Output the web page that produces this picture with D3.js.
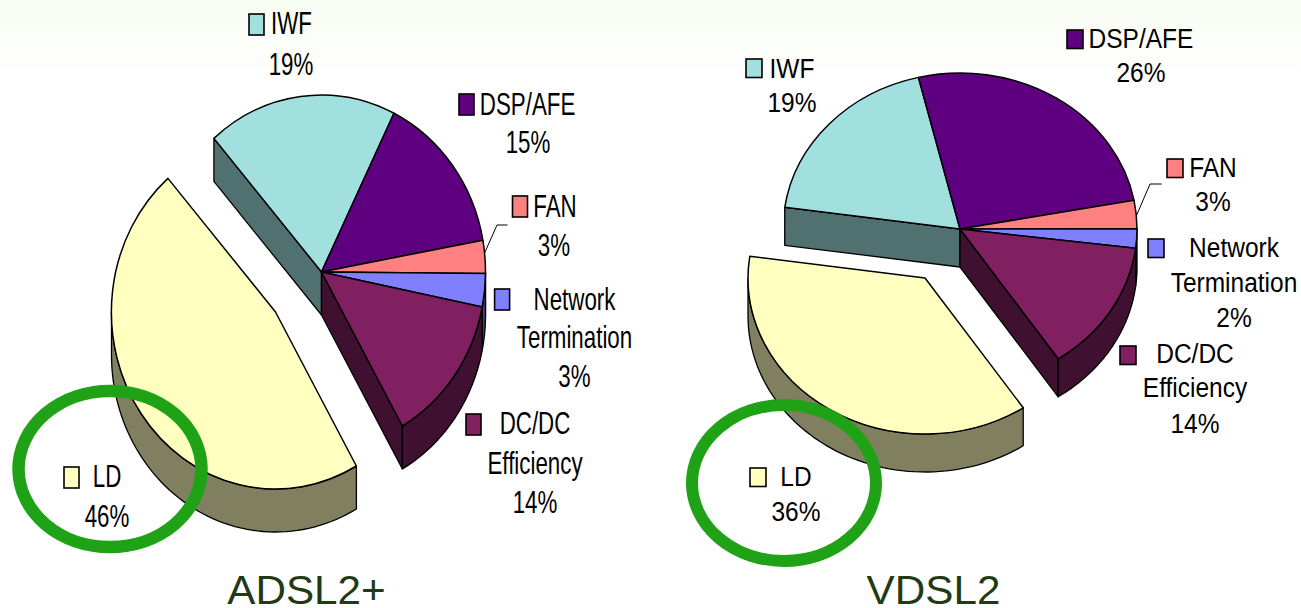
<!DOCTYPE html>
<html><head><meta charset="utf-8">
<script src="https://cdn.jsdelivr.net/npm/d3@7"></script>
<style>html,body{margin:0;padding:0;background:#fff}svg{display:block}text{font-family:"Liberation Sans",Arial,sans-serif}</style>
</head><body><div id="c"></div>
<script>
const categories = ["IWF","DSP/AFE","FAN","Network Termination","DC/DC Efficiency","LD"];
const adslValues = [18.5,14.7,3.0,3.0,13.5,46.4];
const vdslValues = [18.9,25.7,2.9,2.0,13.6,36.4];
const chartTitles = ["ADSL2+","VDSL2"];
const topColors  = ["#a2e0e0","#5f0080","#ff8080","#8080ff","#802060","#ffffc0"];
const sideColors = ["#517070","#300040","#804040","#404080","#401030","#808060"];

const W=1301,H=608;
const svg=d3.select("#c").append("svg").attr("width",W).attr("height",H);
const defs=svg.append("defs");
const grad=defs.append("linearGradient").attr("id","bg").attr("x1",0).attr("x2",0).attr("y1",0).attr("y2",1);
grad.append("stop").attr("offset",0).attr("stop-color","#f7fcf1");
grad.append("stop").attr("offset",0.5).attr("stop-color","#fcfef9");
grad.append("stop").attr("offset",1).attr("stop-color","#ffffff");
svg.append("rect").attr("width",W).attr("height",H).attr("fill","#fff");
svg.append("rect").attr("width",W).attr("height",80).attr("fill","url(#bg)");

const rad=d=>d*Math.PI/180;
const pct=v=>d3.format(".0f")(v)+"%";

// layout of each pie: position, ellipse radii, depth, start angle, pulled-out slice offset, label layout
const layouts=[
 {cx:321.5,cy:272,a:164,b:177,depth:43,start:-41,ex:-46,ey:40,sy:31,sx:0.72,
  swatch:{w:15,h:21},
  leader:[[484.6,253],[497,225],[507.5,225]],
  ring:{cx:110,cy:469,rx:91.5,ry:78,w:12.5},
  title:{x:306.5,y:604,size:41,sx:1.03},
  labels:[
   {sw:[249,14],lines:[["IWF",291.5,34]],p:[291,75]},
   {sw:[459,94],lines:[["DSP/AFE",527.6,115]],p:[528,153]},
   {sw:[512.5,196],lines:[["FAN",555,217]],p:[554,256]},
   {sw:[494.6,289],lines:[["Network",574.5,310],["Termination",574.5,348]],p:[574.5,387]},
   {sw:[466,414],lines:[["DC/DC",535,434],["Efficiency",535,474]],p:[535,513]},
   {sw:[64,467],lines:[["LD",107,487]],p:[107,527]}
  ]},
 {cx:960,cy:229,a:177,b:156,depth:38,start:-82,ex:-35,ey:49,sy:28,sx:0.875,
  swatch:{w:16,h:18.5},
  leader:[[1136.7,215],[1150,184],[1161.6,184]],
  ring:{cx:784,cy:483,rx:92,ry:78,w:12},
  title:{x:933.5,y:604,size:41,sx:1.03},
  labels:[
   {sw:[746,59],lines:[["IWF",792,78]],p:[792,112]},
   {sw:[1067,30],lines:[["DSP/AFE",1141,48]],p:[1141,82]},
   {sw:[1167,159],lines:[["FAN",1213,177]],p:[1213,211]},
   {sw:[1148,239],lines:[["Network",1234,257],["Termination",1234,292]],p:[1234,327]},
   {sw:[1120,346],lines:[["DC/DC",1195,363],["Efficiency",1195,397]],p:[1195,433]},
   {sw:[750,468],lines:[["LD",796,486]],p:[796,521]}
  ]}
];

function drawPie(values,L,title){
  const g=svg.append("g");
  const s0=rad(L.start);
  const pie=d3.pie().sort(null).startAngle(s0).endAngle(s0+2*Math.PI)(values);
  const arc=d3.arc().innerRadius(0).outerRadius(1);
  const n=categories.length;
  const exploded=i=>i===n-1;
  const ox=i=>L.cx+(exploded(i)?L.ex:0), oy=i=>L.cy+(exploded(i)?L.ey:0);
  const pt=(i,t,d=0)=>[ox(i)+L.a*Math.sin(t),oy(i)-L.b*Math.cos(t)+d];
  const line=d3.line();
  const wallStyle=s=>s.attr("stroke","#000").attr("stroke-width",1.3).attr("stroke-linejoin","round");
  // side walls
  const walls=g.append("g");
  pie.forEach((p,i)=>{
    const cen=[ox(i),oy(i)];
    // radial walls show only where a slice borders the gap and faces the viewer
    const radial=[];
    if(exploded((i+n-1)%n) && Math.sin(p.startAngle)<0) radial.push(p.startAngle);
    if(exploded((i+1)%n) && Math.sin(p.endAngle)>0) radial.push(p.endAngle);
    radial.forEach(t=>{
      walls.append("path")
       .attr("d",line([cen,pt(i,t),pt(i,t,L.depth),[cen[0],cen[1]+L.depth]])+"Z")
       .attr("fill",sideColors[i]).call(wallStyle);
    });
    // outer rim, only the front half of the ellipse shows
    const k=Math.floor((p.startAngle+Math.PI/2)/(2*Math.PI));
    const fa=Math.PI/2+2*Math.PI*k, fb=fa+Math.PI;
    [[fa,fb],[fa+2*Math.PI,fb+2*Math.PI]].forEach(([u,v])=>{
      const t0=Math.max(p.startAngle,u), t1=Math.min(p.endAngle,v);
      if(t1<=t0) return;
      const ts=d3.range(0,61).map(j=>t0+(t1-t0)*j/60);
      const pts=ts.map(t=>pt(i,t)).concat(ts.slice().reverse().map(t=>pt(i,t,L.depth)));
      walls.append("path").attr("d",line(pts)+"Z").attr("fill",sideColors[i]).call(wallStyle);
    });
  });
  // top faces
  const tops=g.append("g");
  pie.forEach((p,i)=>{
    tops.append("path")
     .attr("transform",`translate(${ox(i)},${oy(i)}) scale(${L.a},${L.b})`)
     .attr("d",arc(p)).attr("fill",topColors[i])
     .attr("stroke","#000").attr("stroke-width",1.5).attr("stroke-linejoin","round")
     .attr("vector-effect","non-scaling-stroke");
  });
  // leader for FAN
  g.append("path").attr("d",line(L.leader)).attr("fill","none").attr("stroke","#000").attr("stroke-width",1);
  // labels
  const txt=(s,x,y)=>g.append("text").text(s)
     .attr("transform",`translate(${x},${y}) scale(${L.sx},1)`)
     .attr("text-anchor","middle").attr("font-size",L.sy).attr("fill","#000");
  L.labels.forEach((lb,i)=>{
    g.append("rect").attr("x",lb.sw[0]).attr("y",lb.sw[1]).attr("width",L.swatch.w).attr("height",L.swatch.h)
     .attr("fill",topColors[i]).attr("stroke","#000").attr("stroke-width",1.6);
    lb.lines.forEach(l=>txt(l[0],l[1],l[2]));
    txt(pct(values[i]),lb.p[0],lb.p[1]);
  });
  // ring
  g.append("ellipse").attr("cx",L.ring.cx).attr("cy",L.ring.cy).attr("rx",L.ring.rx).attr("ry",L.ring.ry)
   .attr("fill","none").attr("stroke","#1fa215").attr("stroke-width",L.ring.w);
  // title
  g.append("text").text(title)
   .attr("transform",`translate(${L.title.x},${L.title.y}) scale(${L.title.sx},1)`)
   .attr("text-anchor","middle").attr("font-size",L.title.size).attr("fill","#1f3a14");
}
drawPie(adslValues,layouts[0],chartTitles[0]);
drawPie(vdslValues,layouts[1],chartTitles[1]);
</script></body></html>
